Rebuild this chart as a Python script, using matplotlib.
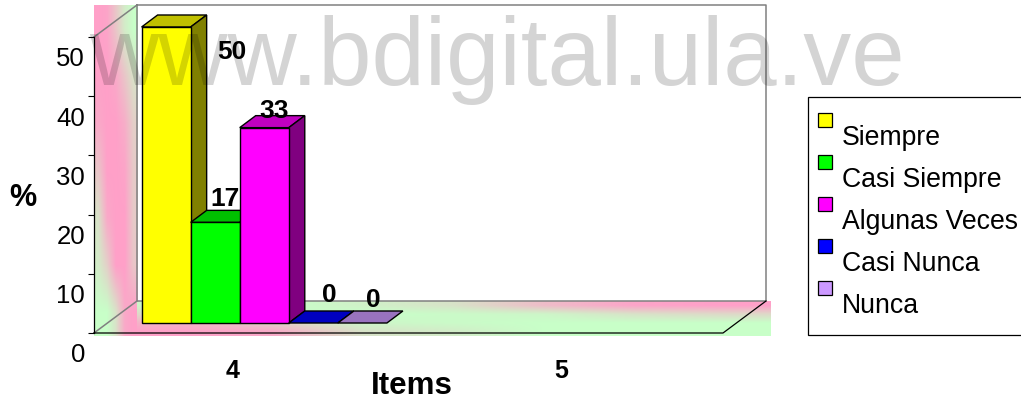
import numpy as np
import matplotlib
matplotlib.use("Agg")
import matplotlib.pyplot as plt
from matplotlib.colors import LinearSegmentedColormap
from matplotlib.patches import Rectangle
from matplotlib.transforms import ScaledTranslation

plt.rcParams["font.family"] = ["Liberation Sans", "DejaVu Sans"]

W, H = 1021, 402

# data
series = ["Siempre", "Casi Siempre", "Algunas Veces", "Casi Nunca", "Nunca"]
values = [50, 17, 33, 0, 0]
categories = [4, 5]
y_ticks = [0, 10, 20, 30, 40, 50]

front_colors = ["#ffff00", "#00ff00", "#ff00ff", "#0000ff", "#cc99ff"]
top_colors = ["#c0c000", "#00c000", "#c000c0", "#0000c0", "#9973bf"]
side_colors = ["#808000", "#008000", "#800080", "#000080", "#664d80"]

# where the value labels sit relative to their bar, in pixels
label_offsets = [(66, -24), (10, 24), (10, 18), (16, 29), (11, 24)]
cat_label_shift = [-32, -18]

# gradient strengths, 0 = green, 1 = pink
wall_mix = [
    [1.0, 0.95, 0.6, 0.2, 0.0],
    [1.0, 1.0, 0.9, 0.6, 0.3],
    [0.9, 1.0, 1.0, 0.85, 0.5],
    [0.6, 1.0, 1.0, 0.95, 0.55],
    [0.3, 0.9, 1.0, 1.0, 0.55],
    [0.2, 0.5, 1.0, 1.0, 0.6],
    [0.0, 0.0, 0.3, 0.9, 1.0],
]
floor_mix = [
    [0.1, 0.0, 0.15, 0.3, 0.7, 0.95, 1.0],
    [0.4, 0.05, 0.0, 0.05, 0.1, 0.3, 0.4],
    [0.8, 0.5, 0.1, 0.05, 0.0, 0.0, 0.0],
    [1.0, 0.9, 0.3, 0.2, 0.0, 0.0, 0.0],
]


def px_axes(fig, left, top, right, bottom, **kw):
    return fig.add_axes(
        [left / W, 1 - bottom / H, (right - left) / W, (bottom - top) / H], **kw
    )


fig = plt.figure(figsize=(W / 100, H / 100), dpi=100, facecolor="white")

# background layer in pixel coordinates: walls, floor, legend, titles
back = px_axes(fig, 0, 0, W, H, zorder=0)
cmap = LinearSegmentedColormap.from_list("wall", ["#c8ffc8", "#ffa0c8"])
back.imshow(wall_mix, extent=(94, 137, 337, 6), cmap=cmap, vmin=0, vmax=1,
            interpolation="bilinear", aspect="auto")
back.imshow(floor_mix, extent=(137, 770, 337, 302), cmap=cmap, vmin=0, vmax=1,
            interpolation="bilinear", aspect="auto")
back.set_xlim(0, W)
back.set_ylim(H, 0)
back.axis("off")

grey = "#808080"
back.plot([137, 766, 766, 137, 137], [6, 6, 302, 302, 6], color=grey, lw=1.1)
back.plot([94, 137], [38, 6], color=grey, lw=1.1)
back.plot([94, 137], [334, 302], color=grey, lw=1.1)
back.plot([94, 723, 766], [334, 334, 302], color="black", lw=0.9)

back.text(23, 198, "%", fontsize=22, fontweight="bold", ha="center", va="center")
back.text(412, 386, "Items", fontsize=22.5, fontweight="bold", ha="center", va="center")

back.add_patch(Rectangle((808, 98), 230, 238, fc="white", ec="black", lw=0.9))
for i, (name, color) in enumerate(zip(series, front_colors)):
    back.add_patch(Rectangle((818, 114 + 42 * i), 14, 14, fc=color, ec="black", lw=0.9))
    back.text(842, 138 + 42 * i, name, fontsize=19.2, ha="left", va="center")

# y axis, sits on the front edge of the floor
ax_y = px_axes(fig, 94, 38, 110, 334, zorder=1)
ax_y.patch.set_visible(False)
ax_y.set_ylim(0, 50)
ax_y.set_xticks([])
ax_y.set_yticks(y_ticks)
ax_y.tick_params(axis="y", length=4.3, width=0.8, pad=2.2, labelsize=18.5)
for side in ["top", "right", "bottom"]:
    ax_y.spines[side].set_visible(False)
ax_y.spines["left"].set_linewidth(0.9)
shift = ScaledTranslation(0, -19 / 100, fig.dpi_scale_trans)
for lab in ax_y.get_yticklabels():
    lab.set_transform(lab.get_transform() + shift)

# bars, drawn in value units with the 3d depth added on
ax = px_axes(fig, 107, 28, 736, 324, zorder=2)
ax.patch.set_visible(False)
ax.set_xlim(3.5, 5.5)
ax.set_ylim(0, 50)
ax.set_yticks([])
for spine in ax.spines.values():
    spine.set_visible(False)

bar_w = 0.156
depth_x = 16 / (629 / 2)
depth_y = 12 / (296 / 50)
edges = dict(edgecolor="black", linewidth=1.0, clip_on=False)

for i, val in enumerate(values):
    x0 = categories[0] + (i - 2.5) * bar_w
    x1 = x0 + bar_w
    ax.fill([x0, x0 + depth_x, x1 + depth_x, x1],
            [val, val + depth_y, val + depth_y, val], facecolor=top_colors[i], **edges, zorder=2 + i)
    if val > 0:
        ax.fill([x1, x1 + depth_x, x1 + depth_x, x1],
                [0, depth_y, val + depth_y, val], facecolor=side_colors[i], **edges, zorder=2 + i)
        ax.bar(x0, val, width=bar_w, align="edge", color=front_colors[i], **edges, zorder=2 + i)
    ax.annotate(str(val), (x0 + bar_w / 2, val), xytext=label_offsets[i],
                textcoords="offset pixels", ha="center", va="center",
                fontsize=19, fontweight="bold", zorder=20)

ax.set_xticks(categories)
ax.set_xticklabels([str(c) for c in categories], fontsize=18, fontweight="bold")
ax.tick_params(axis="x", length=0, pad=25)
for lab, dx in zip(ax.get_xticklabels(), cat_label_shift):
    lab.set_transform(lab.get_transform() + ScaledTranslation(dx / 100, 0, fig.dpi_scale_trans))

# watermark over everything
fig.text(89 / W, 1 - 85 / H, "www.bdigital.ula.ve", fontsize=69, color="black",
         alpha=0.17, ha="left", va="baseline", zorder=30)

fig.savefig("out.png", dpi=100)
